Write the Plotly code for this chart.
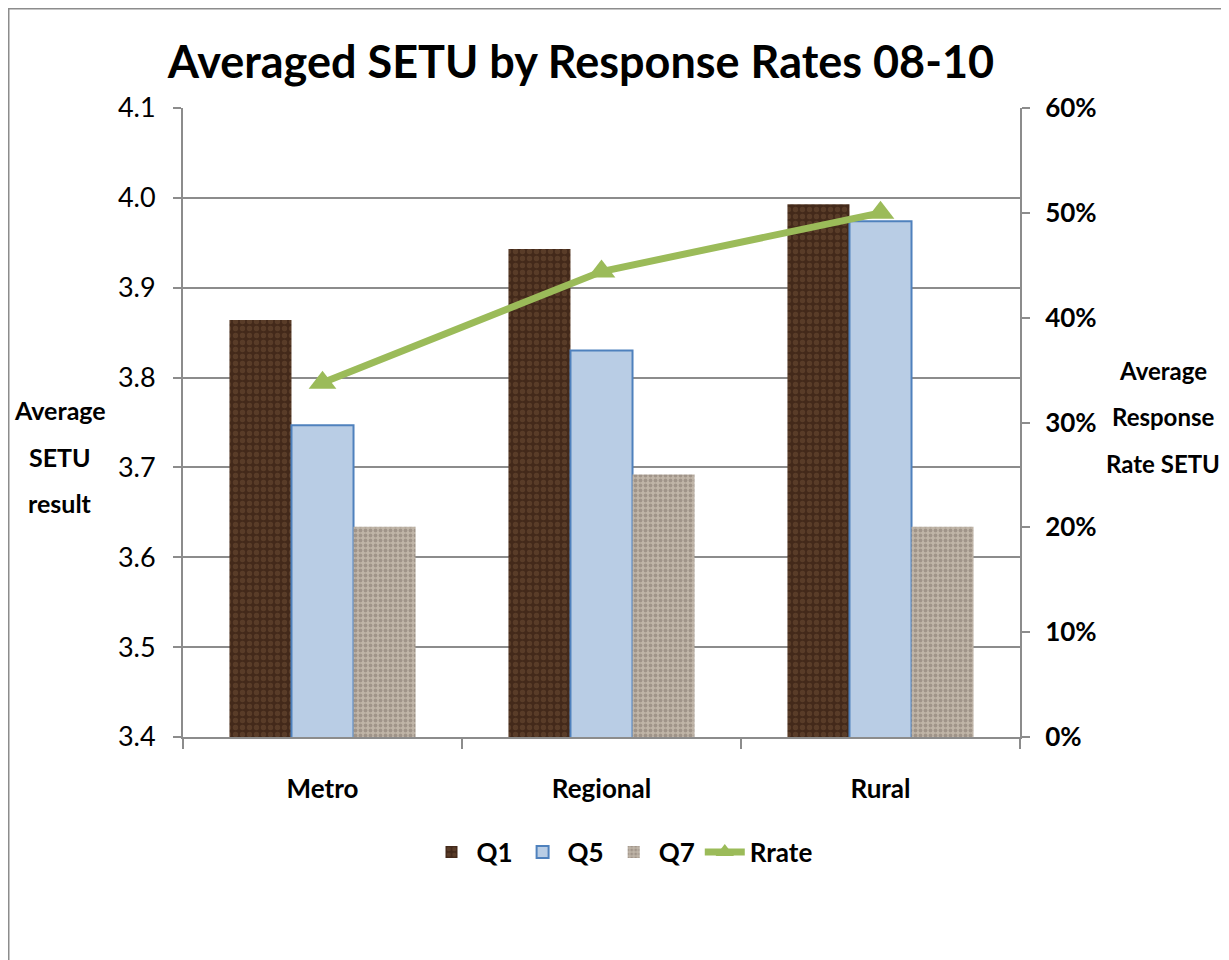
import plotly.graph_objects as go

categories = ["Metro", "Regional", "Rural"]
q1 = [3.864, 3.943, 3.993]
q5 = [3.747, 3.830, 3.974]
q7 = [3.634, 3.692, 3.634]
rrate = [0.338, 0.444, 0.500]

FONT = "Lato, DejaVu Sans Condensed, sans-serif"

# page has an 8px body margin; plot area in page px: x 183-1020, y 108-737
OFF = 8
L, T = 183 - OFF, 108 - OFF
W, H = 1229, 960
PW, PH = 837, 629


def px(xp):
    return (xp - 183) / PW


def py(yp):
    return (737 - yp) / PH


fig = go.Figure()
fig.add_trace(go.Bar(
    x=categories, y=q1, name="Q1",
    marker=dict(color="#4a301c", line=dict(width=0),
                pattern=dict(shape=".", fgcolor="#6f4f35", bgcolor="#43291a", size=7, solidity=0.45)),
))
fig.add_trace(go.Bar(
    x=categories, y=q5, name="Q5",
    marker=dict(color="#b9cde5", line=dict(color="#4f81bd", width=2)),
))
fig.add_trace(go.Bar(
    x=categories, y=q7, name="Q7",
    marker=dict(color="#b3a797", line=dict(width=0),
                pattern=dict(shape=".", fgcolor="#80746a", bgcolor="#c0b5a8", size=5, solidity=0.45)),
))
fig.add_trace(go.Scatter(
    x=categories, y=rrate, name="Rrate", yaxis="y2", mode="lines+markers",
    line=dict(color="#9bbb59", width=7),
    marker=dict(symbol="triangle-up", size=24, color="#9bbb59"),
))

fig.update_layout(
    width=W, height=H,
    margin=dict(l=L, r=W - L - PW, t=T, b=H - T - PH, autoexpand=False),
    paper_bgcolor="white", plot_bgcolor="white",
    barmode="group", bargap=0.333, bargroupgap=0,
    font=dict(family=FONT, color="black", size=24),
    title=dict(text="<b>Averaged SETU by Response Rates 08-10</b>",
               font=dict(family=FONT, size=45, color="black"),
               x=px(581), xref="paper", xanchor="center",
               y=1 - (62 - OFF) / H, yref="container", yanchor="middle"),
    xaxis=dict(
        type="category", showline=True, linecolor="#8c8c8c", linewidth=2,
        ticks="outside", tickson="boundaries", ticklen=10, tickcolor="#8c8c8c", tickwidth=2,
        tickfont=dict(family=FONT, size=26, color="black", weight="bold"),
        ticklabelstandoff=28, showgrid=False,
    ),
    yaxis=dict(
        range=[3.4, 4.1], dtick=0.1, tickformat=".1f",
        showline=True, linecolor="#8c8c8c", linewidth=2,
        ticks="outside", ticklen=8, tickcolor="#8c8c8c", tickwidth=2,
        showgrid=True, gridcolor="#8c8c8c", gridwidth=2,
        tickfont=dict(family=FONT, size=27, color="black"),
        ticklabelstandoff=12, zeroline=False,
    ),
    yaxis2=dict(
        overlaying="y", side="right", range=[0, 0.6], dtick=0.1, tickformat=".0%",
        showline=True, linecolor="#8c8c8c", linewidth=2,
        ticks="outside", ticklen=8, tickcolor="#8c8c8c", tickwidth=2,
        showgrid=False, zeroline=False,
        tickfont=dict(family=FONT, size=26, color="black", weight="bold"),
        ticklabelstandoff=10,
    ),
    legend=dict(orientation="h", x=px(622), xanchor="center", y=py(852), yanchor="middle",
                font=dict(family=FONT, size=26, color="black", weight="bold"),
                itemwidth=40, traceorder="normal", bgcolor="rgba(0,0,0,0)"),
    showlegend=True,
)

for txt, yy in [("Average", 410), ("SETU", 457), ("result", 503)]:
    fig.add_annotation(text="<b>%s</b>" % txt, xref="paper", yref="paper",
                       x=px(60), y=py(yy), showarrow=False, xanchor="center", yanchor="middle",
                       font=dict(family=FONT, size=25, color="black"))
for txt, yy in [("Average", 370), ("Response", 416), ("Rate SETU", 463)]:
    fig.add_annotation(text="<b>%s</b>" % txt, xref="paper", yref="paper",
                       x=px(1163), y=py(yy), showarrow=False, xanchor="center", yanchor="middle",
                       font=dict(family=FONT, size=24, color="black"))

# outer chart border
fig.add_shape(type="rect", xref="paper", yref="paper",
              x0=px(8), x1=px(1250), y0=py(990), y1=py(8),
              line=dict(color="#8c8c8c", width=3), fillcolor="rgba(0,0,0,0)", layer="below")

fig.write_html("out.html")
